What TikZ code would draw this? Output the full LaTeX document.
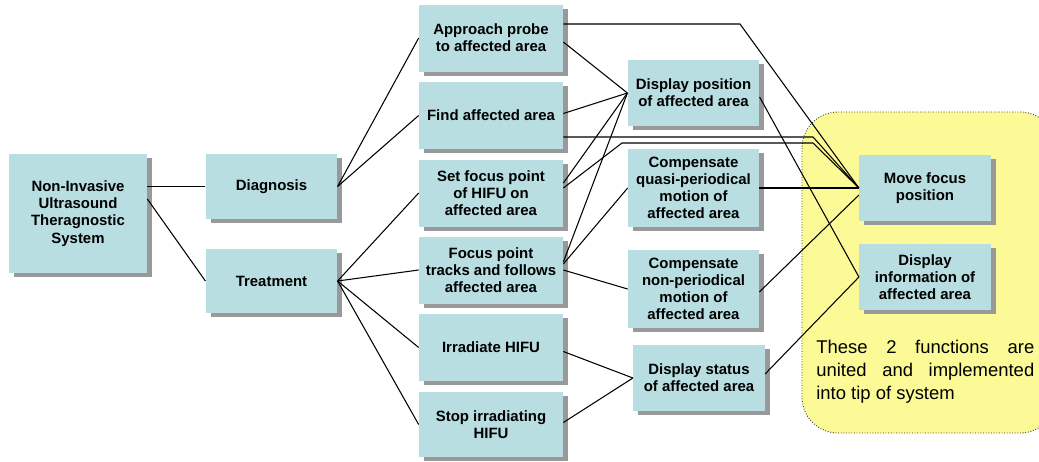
\documentclass[tikz,border=0pt]{standalone}
\usepackage{fontspec}
\setmainfont{Liberation Sans}
\usetikzlibrary{calc,shadows}
\definecolor{boxfill}{RGB}{184,222,225}
\definecolor{areafill}{RGB}{252,250,150}
\tikzset{
  fbox/.style={fill=boxfill, align=center, inner sep=1pt,
    font=\fontsize{8.5}{9.8}\selectfont\bfseries,
    drop shadow={shadow xshift=0.1cm, shadow yshift=-0.08cm, fill=black!40, opacity=1}},
  wide/.style={fbox, minimum width=2.88cm, minimum height=1.34cm},
  narrow/.style={fbox, minimum width=2.63cm, minimum height=1.32cm},
  tall/.style={fbox, minimum width=2.62cm, minimum height=1.56cm},
  link/.style={line width=0.6pt},
  note/.style={text width=4.36cm, align=justify, inner sep=0pt,
    font=\fontsize{10.5}{12.9}\selectfont},
}
\begin{document}
\begin{tikzpicture}[x=0.02cm, y=-0.02cm]
        \useasboundingbox (0,0) rectangle (1039,461);
        \draw[densely dotted, line width=0.5pt, draw=black!80, fill=areafill, rounded corners=0.72cm] (802,112) rectangle (1056,433);
        \node[note, anchor=north west] (note) at (816,340) {\tolerance=9999 \hyphenpenalty=10000 These 2 functions are united and implemented into tip of system};

        \node[fbox, minimum width=2.76cm, minimum height=2.38cm] (sys) at (78,213.5) {Non-Invasive\\Ultrasound\\Theragnostic\\System};
        \node[narrow, minimum height=1.3cm] (diag) at (271.5,186.5) {Diagnosis};
        \node[narrow, minimum height=1.28cm] (treat) at (271.5,281) {Treatment};

        \node[wide] (appr) at (491,38) {Approach probe\\to affected area};
        \node[wide] (find) at (491,115.5) {Find affected area};
        \node[wide] (setf) at (491,193) {Set focus point\\of HIFU on\\affected area};
        \node[wide] (track) at (491,270) {Focus point\\tracks and follows\\affected area};
        \node[wide] (irr) at (491,347.5) {Irradiate HIFU};
        \node[wide, minimum height=1.3cm] (stop) at (491,424.5) {Stop irradiating\\HIFU};

        \node[narrow] (dpos) at (693.5,93) {Display position\\of affected area};
        \node[tall] (quasi) at (693.5,188) {Compensate\\quasi-periodical\\motion of\\affected area};
        \node[tall] (nonp) at (693.5,289) {Compensate\\non-periodical\\motion of\\affected area};
        \node[narrow] (dstat) at (699,378) {Display status\\of affected area};

        \node[narrow] (move) at (925,188) {Move focus\\position};
        \node[narrow] (dinfo) at (925,277) {Display\\information of\\affected area};

        \coordinate (bendA) at (740,24);
        \coordinate (bendB) at (813,137);
        \coordinate (bendC) at (622,143);
        \coordinate (bendD) at (813,143);

        \draw[link] (diag.west) -- (diag.west -| sys.east);
        \draw[link] ($(sys.east)+(0,-14.5)$) -- (treat.west);
        \draw[link] (diag.east) -- (appr.west);
        \draw[link] (diag.east) -- (find.west);
        \draw[link] (treat.east) -- (setf.west);
        \draw[link] (treat.east) -- (track.west);
        \draw[link] (treat.east) -- (irr.west);
        \draw[link] (treat.east) -- (stop.west);

        \draw[link] ($(appr.east)+(0,-14)$) -- (bendA) -- (move.west);
        \draw[link] ($(appr.east)+(0,4)$) -- (dpos.west);
        \draw[link] ($(find.east)+(0,-2)$) -- (dpos.west);
        \draw[link] ($(find.east)+(0,21.5)$) -- (bendB) -- (move.west);
        \draw[link] ($(setf.east)+(0,-10)$) -- (dpos.west);
        \draw[link] ($(setf.east)+(0,-5)$) -- (bendC) -- (bendD) -- (move.west);
        \draw[link] ($(track.east)+(0,-8)$) -- (dpos.west);
        \draw[link] ($(track.east)+(0,-6)$) -- (quasi.west);
        \draw[link] (track.east) -- (nonp.west);
        \draw[link] ($(irr.east)+(0,4)$) -- (dstat.west);
        \draw[link] ($(stop.east)+(0,-2)$) -- (dstat.west);

        \draw[link] ($(dpos.east)+(0,4)$) -- (dinfo.west);
        \draw[link] (quasi.east) -- (move.west);
        \draw[link] ($(nonp.east)+(0,3)$) -- ($(move.west)+(0,7)$);
        \draw[link] ($(dstat.east)+(0,-4)$) -- (dinfo.west);
    \end{tikzpicture}
\end{document}
